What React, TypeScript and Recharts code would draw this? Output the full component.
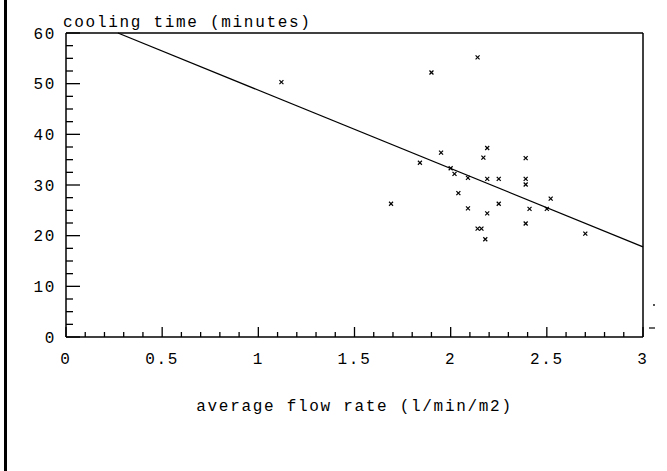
import React from 'react';
import { ScatterChart, Scatter, XAxis, YAxis, ReferenceLine, Label } from 'recharts';

// average flow rate (l/min/m2)
const flowRate = [1.12, 2.14, 1.9, 1.95, 2.19, 1.84, 2.17, 2.39, 2.0, 2.02, 2.09, 2.19, 2.25, 2.39, 2.39, 2.04, 1.69, 2.52, 2.25, 2.09, 2.41, 2.5, 2.19, 2.39, 2.7, 2.14, 2.16, 2.18];
// cooling time (minutes)
const coolingTime = [50.3, 55.2, 52.2, 36.4, 37.3, 34.4, 35.4, 35.3, 33.3, 32.2, 31.4, 31.2, 31.2, 31.2, 30.1, 28.4, 26.3, 27.3, 26.3, 25.4, 25.3, 25.3, 24.4, 22.4, 20.4, 21.4, 21.4, 19.3];

// fitted line endpoints (clipped at the top of the frame)
const fitStart = { x: 0.27, y: 60 };
const fitEnd = { x: 3, y: 17.8 };

const xMajorLabels = ['0', '0.5', '1', '1.5', '2', '2.5', '3'];
const yMajorLabels = ['0', '10', '20', '30', '40', '50', '60'];
const xTicks = Array.from({ length: 31 }, (_, i) => Math.round(i) / 10);
const yTicks = Array.from({ length: 25 }, (_, i) => i * 2.5);

const points = flowRate.map((x, i) => ({ x, y: coolingTime[i] }));

const FONT = '"Liberation Mono", "DejaVu Sans Mono", monospace';
const FS = 16;
const LS = 1.7;

const XTick = (props: any) => {
  const { x, y, payload } = props;
  const v = payload.value as number;
  const lbl = xMajorLabels.find((s) => Math.abs(parseFloat(s) - v) < 1e-6);
  const major = lbl !== undefined;
  return (
    <g>
      <line x1={x} y1={y} x2={x} y2={y - (major ? 10 : 5)} stroke="#000" strokeWidth={1.3} />
      {major && (
        <text x={x} y={y + 27} textAnchor="middle" fontFamily={FONT} fontSize={FS} letterSpacing={LS} fill="#000">
          {lbl}
        </text>
      )}
    </g>
  );
};

const YTick = (props: any) => {
  const { x, y, payload } = props;
  const v = payload.value as number;
  const lbl = yMajorLabels.find((s) => Math.abs(parseFloat(s) - v) < 1e-6);
  const major = lbl !== undefined;
  return (
    <g>
      <line x1={x} y1={y} x2={x + (major ? 14 : 7)} y2={y} stroke="#000" strokeWidth={1.3} />
      {major && (
        <text x={x - 10} y={y + 5.5} textAnchor="end" fontFamily={FONT} fontSize={FS} letterSpacing={LS} fill="#000">
          {lbl}
        </text>
      )}
    </g>
  );
};

const Cross = (props: any) => {
  const { cx, cy } = props;
  const s = 2;
  return (
    <g>
      <line x1={cx - s} y1={cy - s} x2={cx + s} y2={cy + s} stroke="#000" strokeWidth={1.2} />
      <line x1={cx - s} y1={cy + s} x2={cx + s} y2={cy - s} stroke="#000" strokeWidth={1.2} />
    </g>
  );
};

const YTitle = (props: any) => {
  const vb = props.viewBox || { x: 0, y: 33, width: 66 };
  return (
    <text x={vb.x + vb.width - 3} y={vb.y - 6.5} textAnchor="start" fontFamily={FONT} fontSize={FS} letterSpacing={LS} fill="#000">
      cooling time (minutes)
    </text>
  );
};

const XTitle = (props: any) => {
  const vb = props.viewBox || { x: 66, y: 337, width: 577 };
  return (
    <text x={vb.x + vb.width / 2} y={vb.y + 74} textAnchor="middle" fontFamily={FONT} fontSize={FS} letterSpacing={LS} fill="#000">
      average flow rate (l/min/m2)
    </text>
  );
};

export default function App() {
  return (
    <div style={{ position: 'absolute', left: 0, top: 0, width: 667, height: 471, background: '#fff' }}>
      <div style={{ position: 'absolute', left: 4, top: 0, width: 3, height: 471, background: '#000' }} />
      <svg style={{ position: 'absolute', left: 0, top: 0 }} width={667} height={471}>
        <line x1={649} y1={328} x2={655} y2={328} stroke="#000" strokeWidth={1.2} />
        <circle cx={654} cy={305} r={0.9} fill="#000" />
      </svg>
      <div style={{ position: 'absolute', left: 0, top: 0 }}>
        <ScatterChart width={667} height={471} margin={{ top: 33, right: 24, bottom: 104, left: 0 }}>
          <XAxis
            type="number"
            dataKey="x"
            domain={[0, 3]}
            ticks={xTicks}
            interval={0}
            tickSize={0}
            tickMargin={0}
            tickLine={false}
            tick={<XTick />}
            height={30}
            axisLine={{ stroke: '#000', strokeWidth: 1.5 }}
            allowDataOverflow
          >
            <Label content={<XTitle />} />
          </XAxis>
          <YAxis
            type="number"
            dataKey="y"
            domain={[0, 60]}
            ticks={yTicks}
            interval={0}
            tickSize={0}
            tickMargin={0}
            tickLine={false}
            tick={<YTick />}
            width={66}
            axisLine={{ stroke: '#000', strokeWidth: 1.5 }}
            allowDataOverflow
          >
            <Label content={<YTitle />} />
          </YAxis>
          <ReferenceLine y={60} stroke="#000" strokeWidth={1.5} />
          <ReferenceLine x={3} stroke="#000" strokeWidth={1.5} />
          <ReferenceLine segment={[fitStart, fitEnd]} stroke="#000" strokeWidth={1.3} />
          <Scatter data={points} shape={<Cross />} isAnimationActive={false} />
        </ScatterChart>
      </div>
    </div>
  );
}
